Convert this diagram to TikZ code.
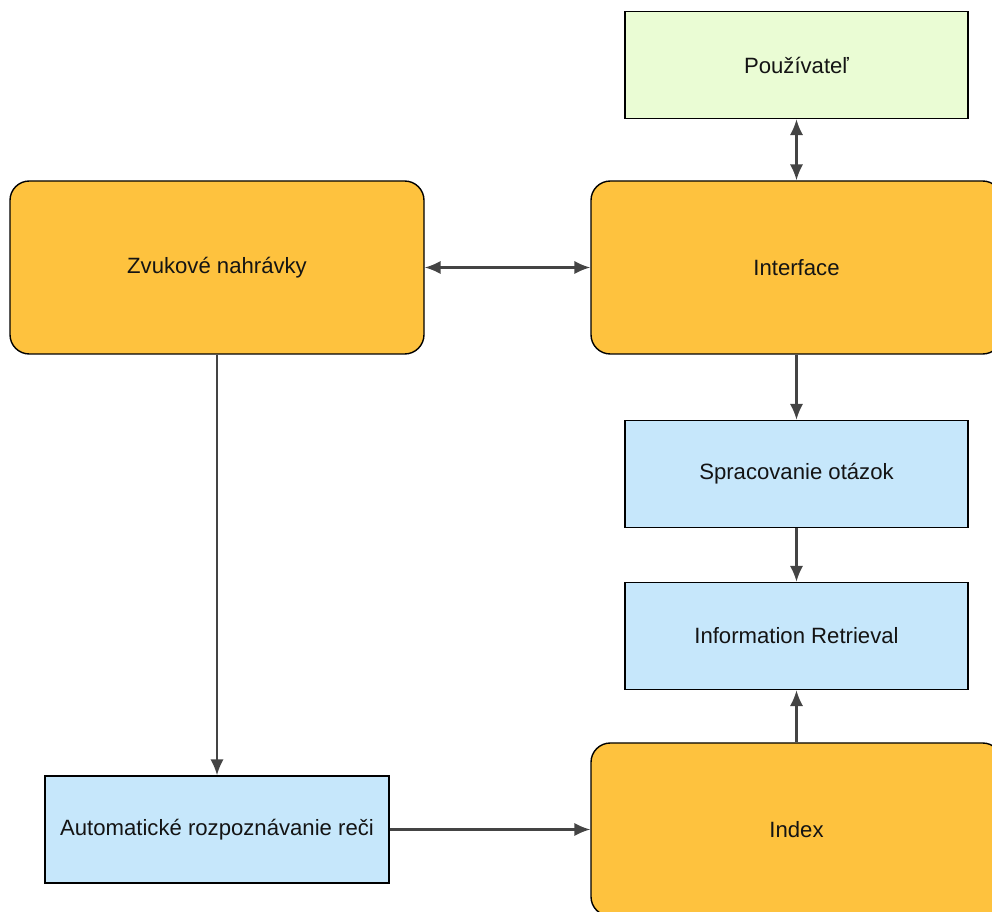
\documentclass[tikz,border=0pt]{standalone}
\usepackage{fontspec}
\setmainfont{Liberation Sans}
\usetikzlibrary{arrows.meta, positioning}
\definecolor{boxorange}{HTML}{FEC23E}
\definecolor{boxblue}{HTML}{C6E7FB}
\definecolor{boxgreen}{HTML}{EAFCD4}
\definecolor{linegray}{HTML}{444444}
\tikzset{>={Latex[length=9pt,width=7.5pt]}}
\tikzset{box-o/.style = {draw, line width=0.8pt, fill=boxorange, rounded corners=11pt, minimum width=414*0.02cm, minimum height=173*0.02cm}}
\tikzset{box-b/.style = {draw, line width=0.8pt, fill=boxblue, rectangle, minimum width=343*0.02cm, minimum height=107*0.02cm}}
\tikzset{box-g/.style = {draw, line width=0.8pt, fill=boxgreen, rectangle, minimum width=343*0.02cm, minimum height=107*0.02cm}}
\tikzset{link/.style = {draw=linegray, fill=linegray, line width=1.2pt}}

\begin{document}
\begin{tikzpicture}[x=0.02cm, y=-0.02cm, font=\fontsize{12.6}{15}\selectfont, text=black!92]
  \useasboundingbox (0,0) rectangle (992,912);
  \clip (0,0) rectangle (992,912);
  \path (796.5,65) node[box-g] (user) {Používateľ}
      ++(0,202.5) node[box-o, minimum width=411*0.02cm] (inter) {Interface}
      ++(-579.5,0) node[box-o] (zvuk) {Zvukové nahrávky}
        (inter)
      ++(0,206.5) node[box-b] (query) {Spracovanie otázok}
      ++(0,162) node[box-b] (ir) {Information Retrieval}
      ++(0,193.5) node[box-o, minimum width=411*0.02cm] (index) {Index}
      ++(-579.5,0) node[box-b, minimum width=344*0.02cm] (asr) {Automatické rozpoznávanie reči};

  \foreach \i/\o in {user/inter, zvuk/inter}
  {
    \draw[link, <->] (\i) -- (\o);
  }
  \foreach \i/\o in {inter/query, query/ir, index/ir, zvuk/asr, asr/index}
  {
    \draw[link, ->] (\i) -- (\o);
  }
\end{tikzpicture}
\end{document}
